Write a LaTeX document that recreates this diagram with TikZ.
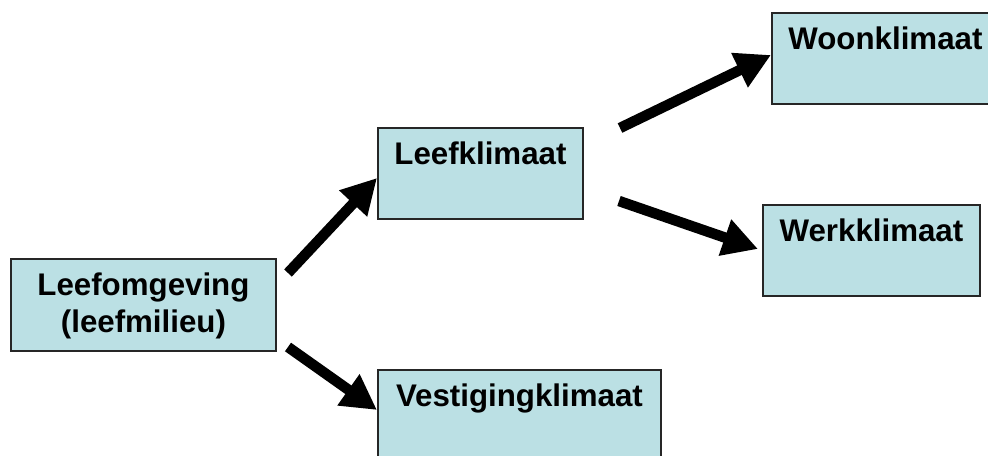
\documentclass[tikz,border=0pt]{standalone}
\usepackage{fontspec}
\setmainfont{Liberation Sans}
\usetikzlibrary{arrows.meta, positioning}
\definecolor{boxblue}{RGB}{187,224,228}
\tikzstyle{block} = [draw=black!85, line width=1.1pt, fill=boxblue, rectangle, inner sep=0pt, anchor=north west, text height=0.74cm, font=\bfseries\fontsize{17.8}{21.3}\selectfont]
\tikzstyle{topblock} = [block, text depth=1.08cm]
\tikzstyle{fat} = [line width=0.21cm, -{Triangle[length=0.7cm, width=0.72cm]}]

\begin{document}
\begin{tikzpicture}[x=0.02cm, y=-0.02cm]
    \useasboundingbox (0,0) rectangle (988,456);
    \node [block, minimum width=5.3cm, text height=1.48cm, text depth=0.36cm, align=center] (omgeving) at (10,258) {Leefomgeving\\(leefmilieu)};
    \node [topblock, minimum width=4.1cm] (leef) at (377,127) {Leefklimaat};
    \node [topblock, minimum width=4.54cm] (woon) at (771,12) {Woonklimaat};
    \node [topblock, minimum width=4.34cm] (werk) at (762,204) {Werkklimaat};
    \node [topblock, minimum width=5.66cm] (vest) at (377,369) {Vestigingklimaat};
    % loose ends of the arrows
    \coordinate (s1) at (288,273);
    \coordinate (s2) at (288,347);
    \coordinate (s3) at (620,128);
    \coordinate (s4) at (619,201);
    \draw [fat] (s1) -- ([yshift=-1.02cm]leef.north west);
    \draw [fat] (s2) -- ([yshift=-0.82cm]vest.north west);
    \draw [fat] (s3) -- ([yshift=-0.86cm]woon.north west);
    \draw [fat] (s4) -- ([shift={(-0.08cm,-0.9cm)}]werk.north west);
\end{tikzpicture}
\end{document}
